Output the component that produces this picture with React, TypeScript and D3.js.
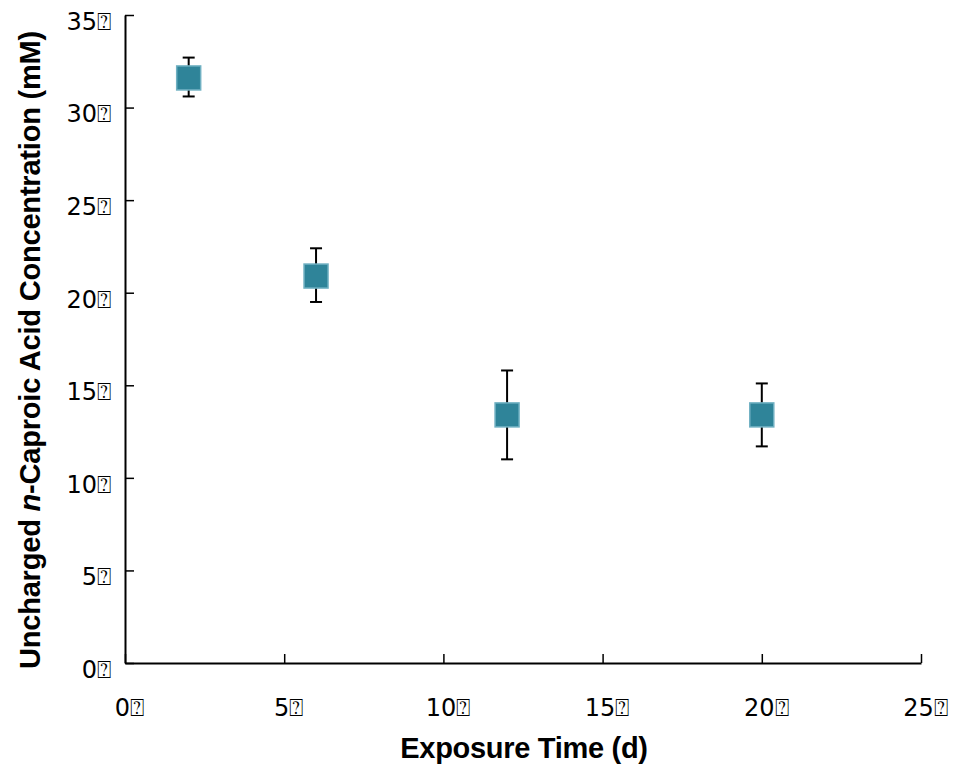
import React, { useEffect, useRef } from 'react'
import * as d3 from 'd3'

// exposure time (d) and measured concentration (mM)
const days = [2, 6, 12, 20]
const meanConc = [31.6, 20.9, 13.4, 13.4]
const lowConc = [30.6, 19.5, 11.0, 11.7]
const highConc = [32.7, 22.4, 15.8, 15.1]
const xTicks = [0, 5, 10, 15, 20, 25]
const yTicks = [0, 5, 10, 15, 20, 25, 30, 35]
const tickSuffix = '\u2370'

function App() {
  const ref = useRef<SVGSVGElement>(null)

  useEffect(() => {
    const width = 953
    const height = 768
    const margin = { top: 15, right: 32, bottom: 105, left: 125 }
    const svg = d3.select(ref.current)
    svg.selectAll('*').remove()

    const x = d3.scaleLinear().domain([0, 25]).range([margin.left, width - margin.right])
    const y = d3.scaleLinear().domain([0, 35]).range([height - margin.bottom, margin.top])

    const xAxis = svg.append('g')
      .attr('transform', 'translate(0,' + y(0) + ')')
      .call(d3.axisBottom(x).tickValues(xTicks).tickSize(-9).tickPadding(36)
        .tickFormat(d => d + tickSuffix).tickSizeOuter(0))
    xAxis.select('.domain').attr('stroke', '#000').attr('stroke-width', 2)
    xAxis.selectAll('.tick line').attr('stroke-width', 1.5)
    xAxis.selectAll('.tick text')
      .attr('font-family', '"DejaVu Sans", sans-serif')
      .attr('font-size', 24)
      .attr('dx', 4)
      .attr('fill', '#000')

    const yAxis = svg.append('g')
      .attr('transform', 'translate(' + x(0) + ',0)')
      .call(d3.axisLeft(y).tickValues(yTicks).tickSize(-9).tickPadding(14)
        .tickFormat(d => d + tickSuffix).tickSizeOuter(0))
    yAxis.select('.domain').attr('stroke', '#000').attr('stroke-width', 2)
    yAxis.selectAll('.tick line').attr('stroke-width', 1.5)
    yAxis.selectAll('.tick text')
      .attr('font-family', '"DejaVu Sans", sans-serif')
      .attr('font-size', 24)
      .attr('dy', '0.6em')
      .attr('fill', '#000')

    // error bars
    const bars = svg.append('g').attr('stroke', '#000').attr('stroke-width', 2)
    days.forEach((d, i) => {
      bars.append('line').attr('x1', x(d)).attr('x2', x(d)).attr('y1', y(lowConc[i])).attr('y2', y(highConc[i]))
      bars.append('line').attr('x1', x(d) - 6).attr('x2', x(d) + 6).attr('y1', y(lowConc[i])).attr('y2', y(lowConc[i]))
      bars.append('line').attr('x1', x(d) - 6).attr('x2', x(d) + 6).attr('y1', y(highConc[i])).attr('y2', y(highConc[i]))
    })

    // markers
    const size = 24
    svg.append('g')
      .selectAll('rect')
      .data(days)
      .join('rect')
      .attr('x', d => x(d) - size / 2)
      .attr('y', (d, i) => y(meanConc[i]) - size / 2)
      .attr('width', size)
      .attr('height', size)
      .attr('fill', '#2f8499')
      .attr('stroke', '#6fb0c2')
      .attr('stroke-width', 1.5)

    svg.append('text')
      .attr('transform', 'translate(40,' + 350 + ') rotate(-90)')
      .attr('text-anchor', 'middle')
      .attr('font-family', '"Liberation Sans", Arial, sans-serif')
      .attr('font-weight', 'bold')
      .attr('font-size', 29)
      .attr('letter-spacing', -0.2)
      .call(t => {
        t.append('tspan').text('Uncharged ')
        t.append('tspan').attr('font-style', 'italic').text('n')
        t.append('tspan').text('-Caproic Acid Concentration (mM)')
      })

    svg.append('text')
      .attr('x', 524)
      .attr('y', 758)
      .attr('text-anchor', 'middle')
      .attr('font-family', '"Liberation Sans", Arial, sans-serif')
      .attr('font-weight', 'bold')
      .attr('font-size', 29)
      .attr('letter-spacing', -0.3)
      .text('Exposure Time (d)')
  }, [])

  return (
    <svg ref={ref} width={953} height={768} style={{ position: 'absolute', left: 0, top: 0, background: '#fff' }} />
  )
}

export default App
